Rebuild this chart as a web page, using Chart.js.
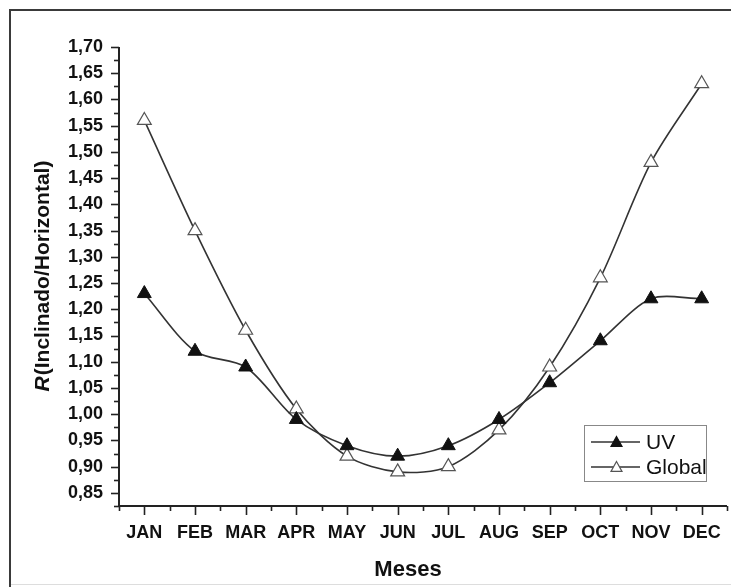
<!DOCTYPE html>
<html>
<head>
<meta charset="utf-8">
<script src="https://cdn.jsdelivr.net/npm/chart.js@4"></script>
<style>
  html, body { margin: 0; padding: 0; background: #fff; }
  canvas { display: block; }
</style>
</head>
<body>
<canvas id="c" width="731" height="587"></canvas>
<script>
// ---- data ----
const months = ['JAN','FEB','MAR','APR','MAY','JUN','JUL','AUG','SEP','OCT','NOV','DEC'];
const uvValues = [1.23, 1.12, 1.09, 0.99, 0.94, 0.92, 0.94, 0.99, 1.06, 1.14, 1.22, 1.22];
const globalValues = [1.56, 1.35, 1.16, 1.01, 0.92, 0.89, 0.90, 0.97, 1.09, 1.26, 1.48, 1.63];
const seriesNames = ['UV', 'Global'];
const yTitleItalic = 'R';
const yTitleRest = '(Inclinado/Horizontal)';
const xTitle = 'Meses';

const FONT = '"Liberation Sans", Arial, sans-serif';
const LINE = '#333333';

function toPoints(vals) { return vals.map((v, i) => ({ x: i, y: v })); }
function isMult(v, step) { const r = v / step; return Math.abs(r - Math.round(r)) < 1e-6; }

const framePlugin = {
  id: 'frame',
  beforeDraw(chart) {
    const ctx = chart.ctx;
    ctx.save();
    ctx.fillStyle = '#fff';
    ctx.fillRect(0, 0, chart.width, chart.height);
    ctx.strokeStyle = '#3a3a3a';
    ctx.lineWidth = 2;
    ctx.beginPath();
    ctx.moveTo(10, 587); ctx.lineTo(10, 10); ctx.lineTo(731, 10);
    ctx.stroke();
    ctx.strokeStyle = '#dddddd';
    ctx.lineWidth = 1;
    ctx.beginPath();
    ctx.moveTo(11, 584.5); ctx.lineTo(731, 584.5);
    ctx.stroke();
    ctx.restore();
  }
};

const axesPlugin = {
  id: 'axesDeco',
  afterDraw(chart) {
    const ctx = chart.ctx;
    const xs = chart.scales.x, ys = chart.scales.y;
    const a = chart.chartArea;
    ctx.save();
    ctx.strokeStyle = '#222';
    ctx.lineWidth = 1.6;
    // y ticks
    ys.ticks.forEach(t => {
      const y = Math.round(ys.getPixelForValue(t.value)) + 0.5;
      const len = isMult(t.value, 0.05) ? 8 : 5;
      ctx.beginPath(); ctx.moveTo(a.left, y); ctx.lineTo(a.left - len, y); ctx.stroke();
    });
    // x ticks
    xs.ticks.forEach(t => {
      const x = Math.round(xs.getPixelForValue(t.value)) + 0.5;
      const len = isMult(t.value, 1) ? 9 : 5;
      ctx.beginPath(); ctx.moveTo(x, a.bottom); ctx.lineTo(x, a.bottom + len); ctx.stroke();
    });
    // axis lines
    ctx.lineWidth = 2;
    ctx.beginPath();
    ctx.moveTo(a.left, a.top); ctx.lineTo(a.left, a.bottom); ctx.lineTo(a.right, a.bottom);
    ctx.stroke();

    // y title
    ctx.fillStyle = '#111';
    ctx.textBaseline = 'middle';
    const fItal = 'italic bold 21px ' + FONT;
    const fBold = 'bold 21px ' + FONT;
    ctx.font = fItal; const w1 = ctx.measureText(yTitleItalic).width;
    ctx.font = fBold; const w2 = ctx.measureText(yTitleRest).width;
    const cy = (a.top + a.bottom) / 2;
    ctx.translate(43, cy);
    ctx.rotate(-Math.PI / 2);
    ctx.textAlign = 'left';
    ctx.font = fItal; ctx.fillText(yTitleItalic, -(w1 + w2) / 2, 0);
    ctx.font = fBold; ctx.fillText(yTitleRest, -(w1 + w2) / 2 + w1 + 1, 0);
    ctx.setTransform(1, 0, 0, 1, 0, 0);

    // x title
    ctx.font = 'bold 22px ' + FONT;
    ctx.textAlign = 'center';
    ctx.fillText(xTitle, 408, 570);

    // legend
    const bx = 584.5, by = 425.5, bw = 122, bh = 56;
    ctx.strokeStyle = '#888';
    ctx.lineWidth = 1;
    ctx.strokeRect(bx, by, bw, bh);
    const rows = [442, 467];
    chart.data.datasets.forEach((ds, i) => {
      const y = rows[i];
      ctx.strokeStyle = LINE;
      ctx.lineWidth = 1.5;
      ctx.beginPath(); ctx.moveTo(591, y); ctx.lineTo(640, y); ctx.stroke();
      ctx.fillStyle = ds.pointBackgroundColor;
      ctx.strokeStyle = ds.pointBorderColor;
      ctx.lineWidth = 1.2;
      ctx.beginPath();
      const r = 5.5;
      ctx.moveTo(616.5, y - r);
      ctx.lineTo(616.5 + r, y + r * 0.8);
      ctx.lineTo(616.5 - r, y + r * 0.8);
      ctx.closePath();
      ctx.fill(); ctx.stroke();
      ctx.fillStyle = '#111';
      ctx.font = '21px ' + FONT;
      ctx.textAlign = 'left';
      ctx.textBaseline = 'middle';
      ctx.fillText(ds.label, 646, y + 1);
    });
    ctx.restore();
  }
};

new Chart(document.getElementById('c'), {
  type: 'line',
  data: {
    datasets: [
      {
        label: seriesNames[0],
        data: toPoints(uvValues),
        borderColor: LINE, borderWidth: 1.6, tension: 0.3,
        pointStyle: 'triangle', pointRadius: 8,
        pointBackgroundColor: '#111111', pointBorderColor: '#111111', pointBorderWidth: 1
      },
      {
        label: seriesNames[1],
        data: toPoints(globalValues),
        borderColor: LINE, borderWidth: 1.6, tension: 0.3,
        pointStyle: 'triangle', pointRadius: 8,
        pointBackgroundColor: '#ffffff', pointBorderColor: '#555555', pointBorderWidth: 1.2
      }
    ]
  },
  options: {
    responsive: false,
    animation: false,
    devicePixelRatio: 1,
    layout: { autoPadding: false, padding: { left: 0, top: 47, right: 4, bottom: 0 } },
    plugins: { legend: { display: false }, tooltip: { enabled: false } },
    scales: {
      x: {
        type: 'linear', min: -0.5, max: 11.5,
        afterFit(s) { s.height = 81; s.paddingLeft = 0; s.paddingRight = 0; },
        grid: { display: false, drawTicks: false },
        border: { display: false },
        ticks: {
          stepSize: 0.5, autoSkip: false, maxRotation: 0, padding: 16,
          color: '#111', font: { family: FONT, size: 18, weight: 'bold' },
          callback: v => (isMult(v, 1) && v >= 0 && v <= 11) ? months[Math.round(v)] : ''
        }
      },
      y: {
        min: 0.825, max: 1.70,
        afterFit(s) { s.width = 119; },
        grid: { display: false, drawTicks: false },
        border: { display: false },
        ticks: {
          stepSize: 0.025, autoSkip: false, padding: 16,
          color: '#111', font: { family: FONT, size: 18, weight: 'bold' },
          callback: v => isMult(v, 0.05) ? v.toFixed(2).replace('.', ',') : ''
        }
      }
    }
  },
  plugins: [framePlugin, axesPlugin]
});
</script>
</body>
</html>
